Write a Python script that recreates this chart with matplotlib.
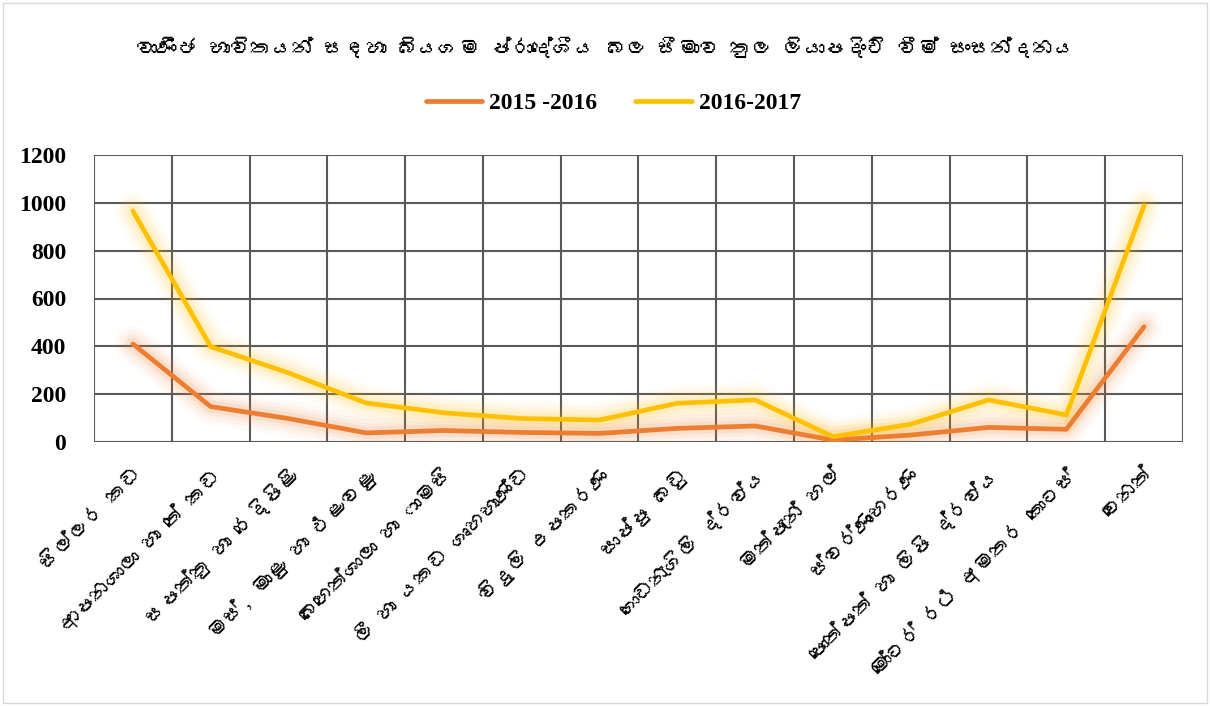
import matplotlib
matplotlib.use("Agg")
import matplotlib.pyplot as plt
from matplotlib import font_manager, ft2font
import numpy as np

categories = [
    "සිල්ලර කඩ",
    "ආපනශාලා හා තේ කඩ",
    "සපත්තු හා රෙදිපිළි",
    "මස්, මාළු හා එළවළු",
    "බෙහෙත්ශාලා හා ෆාමසි",
    "ලී හා යකඩ ගෘහභාණ්ඩ",
    "විදුලි උපකරණ",
    "සාප්පු බඩු",
    "ගොඩනැගිලි ද්‍රව්‍ය",
    "මත්පැන් හල්",
    "ස්වර්ණාභරණ",
    "පොත්පත් හා ලිපි ද්‍රව්‍ය",
    "මෝටර් රථ අමතර කොටස්",
    "වෙනත්",
]
series_2015_2016 = [410, 148, 98, 38, 48, 40, 36, 57, 67, 8, 29, 61, 53, 482]
series_2016_2017 = [966, 399, 289, 163, 122, 98, 92, 162, 176, 22, 74, 176, 113, 989]
series_names = ["2015 -2016", "2016-2017"]
yticks = [0, 200, 400, 600, 800, 1000, 1200]
title = "වාණිජ භාවිතයන් සඳහා බියගම ප්‍රාදේශීය බල සීමාව තුල ලියාපදිංචි වීම් සංසන්දනය"


def clean(s):
    # matplotlib has no complex shaping: drop zero-width joiners that would show as boxes
    return s.replace("\u200d", "")


# find a font that has Sinhala glyphs, if any
sinhala_font = None
for fe in font_manager.fontManager.ttflist:
    try:
        f = ft2font.FT2Font(fe.fname)
        if 0x0DC3 in f.get_charmap():
            sinhala_font = fe.name
            break
    except Exception:
        pass
serif = "Liberation Serif"
text_fam = [sinhala_font, "DejaVu Sans"] if sinhala_font else ["DejaVu Sans"]

fig = plt.figure(figsize=(12.10, 7.06), dpi=100)
fig.patch.set_facecolor("white")
W, H = 1210, 706
ax = fig.add_axes([94 / W, 1 - 442 / H, (1183 - 94) / W, (442 - 155) / H])

x = np.arange(len(categories))
colors = ["#ED7D31", "#FFC000"]
for vals, c, name in zip([series_2015_2016, series_2016_2017], colors, series_names):
    for lw, a in [(26, 0.035), (20, 0.05), (14, 0.07), (9, 0.1)]:
        ax.plot(x, vals, color=c, lw=lw, alpha=a, solid_capstyle="round",
                solid_joinstyle="round", zorder=2)
    ax.plot(x, vals, color=c, lw=3.4, solid_capstyle="round",
            solid_joinstyle="round", zorder=3, label=name)

ax.set_xlim(-0.5, len(categories) - 0.5)
ax.set_ylim(0, 1200)
ax.set_yticks(yticks)
ax.set_yticklabels([str(v) for v in yticks], fontfamily=serif, fontweight="bold", fontsize=17)
ax.set_xticks(x)
ax.set_xticklabels([clean(c) for c in categories], rotation=45, ha="right",
                   rotation_mode="anchor", family=text_fam, fontsize=15)
ax.tick_params(axis="both", length=0)
ax.tick_params(axis="y", pad=20)
ax.tick_params(axis="x", pad=16)

for yv in yticks:
    ax.axhline(yv, color="#595959", lw=1.5, zorder=1)
for b in np.arange(-0.5, len(categories) + 0.5, 1):
    ax.axvline(b, color="#595959", lw=1.5, zorder=1)
for s in ax.spines.values():
    s.set_visible(False)

fig.text(0.5, 1 - 47 / H, clean(title), ha="center", va="center", family=text_fam,
         fontsize=15, fontweight="bold")
leg = fig.legend(loc="center", bbox_to_anchor=(0.507, 1 - 103 / H), ncol=2, frameon=False,
                 prop={"family": serif, "weight": "bold", "size": 17},
                 handlelength=2.4, columnspacing=1.6, handletextpad=0.3)

# outer chart border
fig.add_artist(plt.Rectangle((3 / W, 3 / H), 1 - 6 / W, 1 - 6 / H, transform=fig.transFigure,
                             fill=False, edgecolor="#D9D9D9", lw=1))

fig.savefig("out.png", dpi=100, facecolor="white")
